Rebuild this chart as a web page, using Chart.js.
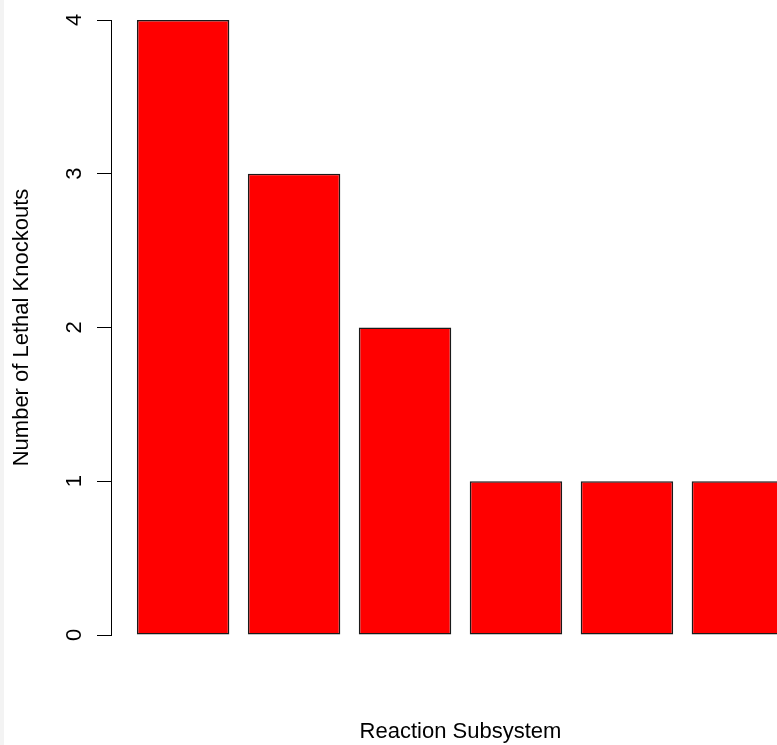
<!DOCTYPE html>
<html>
<head>
<meta charset="utf-8">
<script src="https://cdn.jsdelivr.net/npm/chart.js@4.4.0/dist/chart.umd.min.js"></script>
<style>
  html, body { margin: 0; padding: 0; background: #fff; overflow: hidden; }
  #wrap { width: 810px; height: 745px; }
  canvas { background: linear-gradient(to right, #f3f3f3 0 4px, #fff 4px); }
</style>
</head>
<body>
<div id="wrap"><canvas id="koChart" width="810" height="745"></canvas></div>
<script>
// Lethal knockouts per reaction subsystem
const knockouts = [4, 3, 2, 1, 1, 1];
const yTicks = [0, 1, 2, 3, 4];
const xTitle = 'Reaction Subsystem';
const yTitle = 'Number of Lethal Knockouts';

// R barplot layout: width 1, space 0.2 -> bar i is centred at 0.7 + 1.2 * i
const barMids = knockouts.map((v, i) => 0.7 + 1.2 * i);

const font = { family: "'Liberation Sans', Arial, sans-serif", size: 22 };

function drawChart() {
    const ctx = document.getElementById('koChart').getContext('2d');
    new Chart(ctx, {
        type: 'bar',
        data: {
            datasets: [{
                data: knockouts.map((v, i) => ({ x: barMids[i], y: v })),
                backgroundColor: '#ff0000',
                borderColor: '#1a1a1a',
                borderWidth: 1.6,
                borderSkipped: false,
                categoryPercentage: 1,
                barPercentage: 1 / 1.2
            }]
        },
        options: {
            responsive: false,
            animation: false,
            layout: { padding: { top: 20, left: 0, right: 0, bottom: 0 } },
            plugins: {
                legend: { display: false },
                tooltip: { enabled: false }
            },
            scales: {
                x: {
                    type: 'linear',
                    offset: false,
                    min: -0.08,
                    max: 7.48,
                    afterBuildTicks: s => { s.ticks = barMids.map(v => ({ value: v })); },
                    afterFit: s => { s.height = 110; s.paddingLeft = 0; s.paddingRight = 0; },
                    ticks: { display: false },
                    grid: { display: false },
                    border: { display: false },
                    title: { display: true, text: xTitle, color: '#000', font: font, padding: { top: 0, bottom: 0 } }
                },
                y: {
                    min: 0,
                    max: 4,
                    afterBuildTicks: s => { s.ticks = yTicks.map(v => ({ value: v })); },
                    afterFit: s => { s.width = 111; s.paddingTop = 0; s.paddingBottom = 0; },
                    ticks: {
                        color: '#000',
                        font: font,
                        minRotation: 90,
                        maxRotation: 90,
                        crossAlign: 'center',
                        padding: 16
                    },
                    grid: { drawOnChartArea: false, drawTicks: true, tickLength: 14, tickColor: '#000', tickWidth: 1 },
                    border: { display: true, color: '#000', width: 1 },
                    title: { display: true, text: yTitle, color: '#000', font: font, padding: { top: 9, bottom: 0 } }
                }
            }
        }
    });
}

document.addEventListener('DOMContentLoaded', drawChart);
</script>
</body>
</html>
